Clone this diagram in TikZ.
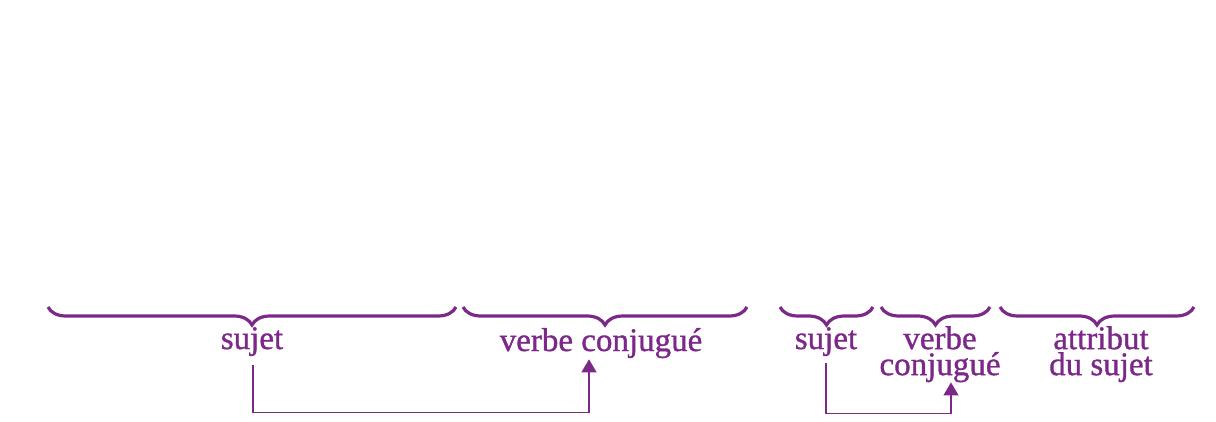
\documentclass[tikz,border=0pt]{standalone}
\usepackage{fontspec}
\setmainfont{Liberation Serif}
\newfontfamily\etiqfont{Liberation Serif}[FakeBold=1]
\usetikzlibrary{decorations.pathreplacing,arrows.meta}
\definecolor{mauve}{HTML}{7B2889}

\begin{document}
\begin{tikzpicture}[x=1pt,y=-1pt,
	accolade/.style={draw=mauve,line width=3.2pt,decorate,decoration={brace,mirror,amplitude=18pt}},
	etiquette/.style={text=mauve,font=\etiqfont\fontsize{33}{26}\selectfont,align=center},
	fleche/.style={draw=mauve,line width=1.3pt,-{Triangle[width=15pt,length=13pt]}}]
	\tikzstyle{every node}+=[inner sep=0pt]
	\useasboundingbox (0,0) rectangle (1216,422);
	\draw [accolade] (48,307) -- (456,307);
	\draw [accolade] (463,307) -- (747,307);
	\draw [accolade] (780,307) -- (873,307);
	\draw [accolade] (881,307) -- (990,307);
	\draw [accolade] (1000,307) -- (1194,307);
	\node [etiquette,anchor=base] (sujetA) at (252,349) {sujet};
	\node [etiquette,anchor=base] (verbeA) at (601,351) {verbe conjugué};
	\node [etiquette,anchor=base] (sujetB) at (826,349) {sujet};
	\node [etiquette,anchor=north] (verbeB) at (940,326) {verbe\\conjugué};
	\node [etiquette,anchor=north] (attribut) at (1101,326) {attribut\\du sujet};
	\draw [fleche] ([xshift=1pt,yshift=-9pt]sujetA.south) -- ++(0,47) -| ([xshift=-12pt,yshift=-1pt]verbeA.south);
	\draw [fleche] ([yshift=-7pt]sujetB.south) -- ++(0,50) -| ([xshift=11pt]verbeB.south);
\end{tikzpicture}
\end{document}
